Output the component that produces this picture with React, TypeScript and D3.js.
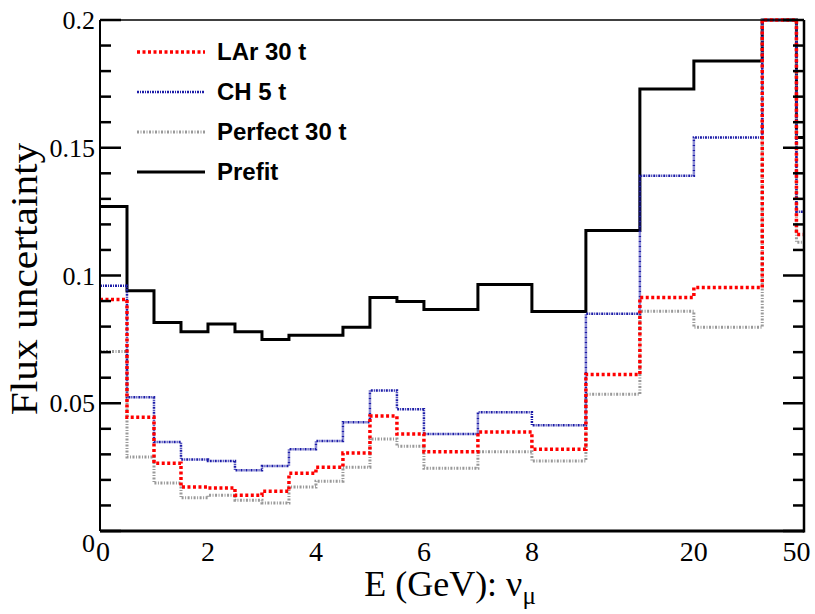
import React, { useEffect, useRef } from 'react';
import * as d3 from 'd3';

// bin edges in GeV (axis is compressed above 8 GeV)
const binEdges = [0, 0.5, 1, 1.5, 2, 2.5, 3, 3.5, 4, 4.5, 5, 5.5, 6, 7, 8, 12, 16, 20, 40, 50, 52];

const prefit = [0.127, 0.094, 0.0816, 0.078, 0.081, 0.078, 0.075, 0.0766, 0.0766, 0.0797, 0.0914, 0.0898, 0.0867, 0.0965, 0.0859, 0.1176, 0.173, 0.184, 0.2, 0.154];
const lar30 = [0.0906, 0.0445, 0.0265, 0.0172, 0.0168, 0.014, 0.0156, 0.0226, 0.025, 0.0305, 0.045, 0.038, 0.031, 0.0387, 0.032, 0.0613, 0.0914, 0.0953, 0.2, 0.116];
const ch5 = [0.096, 0.0523, 0.0348, 0.028, 0.0274, 0.0238, 0.0254, 0.032, 0.0352, 0.0426, 0.055, 0.0477, 0.038, 0.0465, 0.0414, 0.085, 0.139, 0.154, 0.2, 0.125];
const perfect30 = [0.0703, 0.029, 0.0188, 0.013, 0.014, 0.012, 0.011, 0.0172, 0.0195, 0.025, 0.036, 0.0332, 0.0246, 0.031, 0.0274, 0.0535, 0.086, 0.0797, 0.2, 0.113];

const xTicks = [0, 2, 4, 6, 8, 20, 50];
const yMajorTicks = [0, 0.05, 0.1, 0.15, 0.2];
const yMinorTicks = d3.range(0, 0.2001, 0.01);

// where the x axis changes scale (GeV) and the relative length given to each piece
const xBreaks = [0, 8, 20, 50, 52];
const xBreakUnits = [0, 8, 11, 12.9, 13.04];

const series = [
  { name: 'Prefit', values: prefit, color: '#000000', width: 3, dash: null },
  { name: 'Perfect 30 t', values: perfect30, color: '#999999', width: 3, dash: '2,1.5,1,1.5' },
  { name: 'CH 5 t', values: ch5, color: '#1c1ca8', width: 2.5, dash: '2,1,1,1' },
  { name: 'LAr 30 t', values: lar30, color: '#ff0000', width: 3.5, dash: '3,2.5' },
];
const legendOrder = ['LAr 30 t', 'CH 5 t', 'Perfect 30 t', 'Prefit'];

const App = () => {
  const svgRef = useRef(null);

  useEffect(() => {
    const W = 815;
    const H = 614;
    const margin = { top: 20, right: 11, bottom: 83, left: 100 };
    const width = W - margin.left - margin.right;
    const height = H - margin.top - margin.bottom;

    const svg = d3.select(svgRef.current);
    svg.selectAll('*').remove();
    svg.attr('width', W).attr('height', H);

    const maxUnit = xBreakUnits[xBreakUnits.length - 1];
    const x = d3.scaleLinear()
      .domain(xBreaks)
      .range(xBreakUnits.map(u => (u / maxUnit) * width));
    const y = d3.scaleLinear().domain([0, 0.2]).range([height, 0]).clamp(true);

    const g = svg.append('g').attr('transform', `translate(${margin.left},${margin.top})`);

    // histograms drawn as steps
    const line = d3.line()
      .x(d => x(d[0]))
      .y(d => y(d[1]))
      .curve(d3.curveStepAfter);

    series.forEach(s => {
      const pts = s.values.map((v, i) => [binEdges[i], v]);
      pts.push([binEdges[binEdges.length - 1], s.values[s.values.length - 1]]);
      g.append('path')
        .attr('d', line(pts))
        .attr('fill', 'none')
        .attr('stroke', s.color)
        .attr('stroke-width', s.width)
        .attr('stroke-dasharray', s.dash)
        .attr('stroke-linejoin', 'miter');
    });

    // frame
    g.append('line').attr('x1', 0).attr('x2', width).attr('y1', 0).attr('y2', 0)
      .attr('stroke', '#000').attr('stroke-width', 1.5);
    g.append('line').attr('x1', 0).attr('x2', width).attr('y1', height).attr('y2', height)
      .attr('stroke', '#000').attr('stroke-width', 3);
    g.append('line').attr('x1', 0).attr('x2', 0).attr('y1', 0).attr('y2', height)
      .attr('stroke', '#000').attr('stroke-width', 2);
    g.append('line').attr('x1', width).attr('x2', width).attr('y1', 0).attr('y2', height + 1.5)
      .attr('stroke', '#000').attr('stroke-width', 2.5);

    // y ticks on both sides, pointing inward
    const isMajor = v => yMajorTicks.some(m => Math.abs(m - v) < 1e-6);
    yMinorTicks.forEach(v => {
      const len = isMajor(v) ? 21 : 11;
      g.append('line').attr('x1', 0).attr('x2', len).attr('y1', y(v)).attr('y2', y(v))
        .attr('stroke', '#000').attr('stroke-width', 2.5);
      g.append('line').attr('x1', width).attr('x2', width - len).attr('y1', y(v)).attr('y2', y(v))
        .attr('stroke', '#000').attr('stroke-width', 2.5);
    });

    const serif = '"Liberation Serif", "Times New Roman", serif';

    yMajorTicks.forEach(v => {
      g.append('text')
        .attr('x', -5)
        .attr('y', y(v) + (v === 0 ? 12 : 0))
        .attr('dy', '0.35em')
        .attr('text-anchor', 'end')
        .attr('font-family', serif)
        .attr('font-size', 26)
        .text(d3.format('~g')(v));
    });

    xTicks.forEach(v => {
      g.append('text')
        .attr('x', x(v) + (v === 0 ? 3 : 0))
        .attr('y', height + 30)
        .attr('text-anchor', 'middle')
        .attr('font-family', serif)
        .attr('font-size', 28)
        .text(v);
    });

    // axis titles
    const xt = svg.append('text')
      .attr('x', 450)
      .attr('y', 596)
      .attr('text-anchor', 'middle')
      .attr('font-family', serif)
      .attr('font-size', 36);
    xt.append('tspan').text('E (GeV): \u03bd');
    xt.append('tspan').attr('font-size', 25).attr('dy', 8).text('\u03bc');

    svg.append('text')
      .attr('transform', 'translate(37,279) rotate(-90) scale(1.12,1)')
      .attr('text-anchor', 'middle')
      .attr('font-family', serif)
      .attr('font-size', 37)
      .text('Flux uncertainty');

    // legend
    const lg = svg.append('g');
    legendOrder.forEach((name, i) => {
      const s = series.find(d => d.name === name);
      const ly = 52 + i * 40;
      lg.append('line')
        .attr('x1', 137).attr('x2', 205).attr('y1', ly).attr('y2', ly)
        .attr('stroke', s.color)
        .attr('stroke-width', s.width)
        .attr('stroke-dasharray', s.dash);
      lg.append('text')
        .attr('x', 217)
        .attr('y', ly)
        .attr('dy', '0.35em')
        .attr('font-family', '"Liberation Sans", Arial, sans-serif')
        .attr('font-weight', 'bold')
        .attr('font-size', 24)
        .text(name);
    });
  }, []);

  return (
    <div style={{ position: 'absolute', left: 0, top: 0 }}>
      <svg ref={svgRef} style={{ display: 'block' }}></svg>
    </div>
  );
};

export default App;
